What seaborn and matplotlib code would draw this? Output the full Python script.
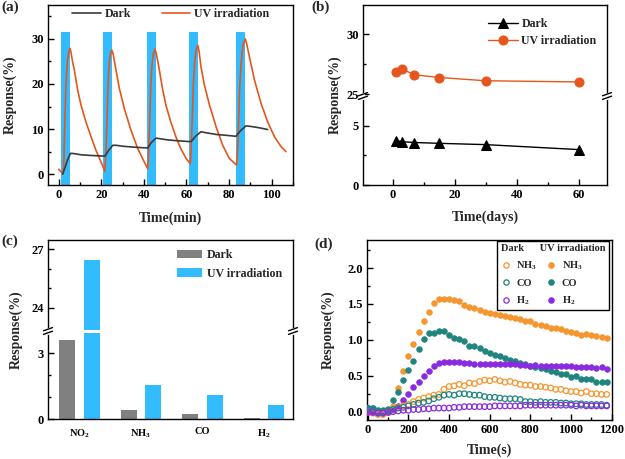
import matplotlib
matplotlib.use("Agg")
import matplotlib.pyplot as plt
from matplotlib.lines import Line2D
from matplotlib.patches import Patch
from matplotlib.ticker import MultipleLocator, FixedLocator
import numpy as np
import pandas as pd
import seaborn as sns

# ---------------- data: panel (a) ----------------
a_dark_t = [1.9, 3.0, 4.2, 5.5, 6.5, 8.0, 10.5, 15.0, 21.7, 23.5, 25.4, 27.0, 30.0, 35.0, 41.8,
            43.5, 45.7, 47.0, 51.2, 56.0, 62.1, 64.5, 66.8, 69.0, 74.0, 79.0, 83.2, 85.5, 87.9,
            90.0, 94.0, 98.1]
a_dark_r = [0.0, 1.5, 3.2, 4.6, 4.6, 4.5, 4.3, 4.15, 4.0, 5.3, 6.4, 6.4, 6.2, 6.0, 5.8,
            7.0, 8.0, 7.9, 7.6, 7.4, 7.2, 8.5, 9.4, 9.2, 8.8, 8.6, 8.4, 9.7, 10.7,
            10.6, 10.3, 9.9]
a_uv_t = [0.0, 1.0, 1.9, 2.4, 2.7, 3.1, 3.4, 3.8, 4.2, 4.7, 5.3, 5.8, 6.5, 7.4, 8.9, 10.5, 12.8,
          15.2, 17.5, 19.9, 21.7,
          22.2, 22.7, 23.1, 23.5, 24.0, 24.5, 25.0, 25.6, 26.9, 28.5, 30.8, 33.9, 37.1, 40.2, 41.8,
          42.3, 42.8, 43.2, 43.7, 44.2, 44.7, 45.2, 45.8, 47.3, 48.8, 50.4, 52.7, 55.1, 57.4, 59.8,
          61.8,
          62.3, 62.9, 63.3, 63.8, 64.3, 64.8, 65.3, 65.9, 66.8, 68.4, 70.8, 73.9, 77.0, 80.1, 83.5,
          84.1, 84.6, 85.0, 85.5, 86.0, 86.6, 87.6, 88.2, 89.5, 91.9, 95.0, 98.1, 101.3, 104.4, 106.7]
a_uv_r = [1.1, 0.6, 0.1, 1.5, 8.0, 14.5, 19.4, 23.0, 25.3, 27.0, 27.9, 27.0, 25.0, 23.0, 18.7, 15.3, 11.6,
          8.3, 5.3, 2.7, 0.6,
          5.0, 12.0, 18.5, 23.0, 25.8, 27.0, 27.5, 26.6, 23.1, 19.0, 14.6, 9.8, 5.7, 2.7, 1.2,
          5.5, 13.0, 19.0, 23.5, 26.0, 27.2, 27.7, 26.8, 23.0, 18.8, 15.2, 11.5, 8.2, 5.6, 3.5,
          2.3,
          7.0, 15.0, 20.5, 24.5, 26.8, 28.0, 28.5, 27.3, 23.8, 19.8, 15.3, 10.5, 6.4, 3.5, 2.0,
          6.0, 14.0, 19.5, 23.5, 26.5, 28.7, 30.0, 29.0, 26.1, 20.9, 15.7, 11.6, 8.3, 6.1, 5.0]
a_uv_on = [1.1, 21.0, 41.5, 61.4, 83.2]
a_uv_off = [5.2, 25.0, 45.7, 65.6, 87.5]
a_uv_bar_top = 31.6

# ---------------- data: panel (b) ----------------
b_days = [1, 3, 7, 15, 30, 60]
b_dark = [3.75, 3.67, 3.60, 3.53, 3.42, 3.00]
b_uv = [26.86, 27.10, 26.63, 26.40, 26.13, 26.03]

# ---------------- data: panel (c) ----------------
c_gases = ['NO$_2$', 'NH$_3$', 'CO', 'H$_2$']
c_dark = [3.63, 0.40, 0.21, 0.03]
c_uv = [26.44, 1.54, 1.09, 0.66]

# ---------------- data: panel (d) ----------------
d_time = [0, 25, 50, 75, 100, 125, 150, 175, 200, 225, 250, 275, 300, 325, 350, 375, 400, 425,
          450, 475, 500, 525, 550, 575, 600, 625, 650, 675, 700, 725, 750, 775, 800, 825, 850,
          875, 900, 925, 950, 975, 1000, 1025, 1050, 1075, 1100, 1125, 1150, 1175]
d_uv_nh3 = [0.00, 0.03, 0.00, -0.01, 0.00, 0.08, 0.33, 0.56, 0.78, 0.94, 1.11, 1.26, 1.39, 1.51, 1.57,
            1.57, 1.57, 1.56, 1.54, 1.49, 1.46, 1.45, 1.42, 1.39,
            1.37, 1.36, 1.35, 1.33, 1.32, 1.31, 1.29, 1.26, 1.26, 1.22, 1.20, 1.19, 1.17, 1.16,
            1.15, 1.13, 1.11, 1.09, 1.07, 1.08, 1.07, 1.06, 1.04, 1.03]
d_uv_co = [0.05, 0.05, 0.02, 0.02, 0.04, 0.16, 0.27, 0.44, 0.58, 0.71, 0.87, 1.01, 1.09, 1.09, 1.13,
           1.13, 1.07, 1.03, 1.01, 0.98, 0.92, 0.92, 0.89, 0.84,
           0.82, 0.79, 0.77, 0.75, 0.72, 0.70, 0.68, 0.66, 0.64, 0.62, 0.61, 0.59, 0.57, 0.55,
           0.53, 0.52, 0.48, 0.49, 0.45, 0.45, 0.46, 0.42, 0.42, 0.41]
d_uv_h2 = [0.00, 0.00, -0.02, -0.02, 0.00, 0.04, 0.08, 0.16, 0.25, 0.34, 0.41, 0.49, 0.56, 0.64, 0.68,
           0.69, 0.69, 0.69, 0.69, 0.68, 0.68, 0.67, 0.66, 0.67,
           0.67, 0.67, 0.66, 0.66, 0.67, 0.66, 0.65, 0.65, 0.64, 0.65, 0.64, 0.64, 0.63, 0.63,
           0.63, 0.63, 0.63, 0.62, 0.62, 0.62, 0.62, 0.61, 0.62, 0.60]
d_dark_nh3 = [0.00, -0.02, -0.04, -0.04, -0.01, 0.02, 0.06, 0.08, 0.10, 0.14, 0.17, 0.19, 0.21, 0.23, 0.24,
              0.31, 0.35, 0.36, 0.38, 0.36, 0.40, 0.39, 0.42, 0.44,
              0.43, 0.45, 0.43, 0.41, 0.42, 0.40, 0.38, 0.37, 0.37, 0.35, 0.35, 0.34, 0.33, 0.31,
              0.31, 0.29, 0.28, 0.28, 0.26, 0.28, 0.25, 0.25, 0.24, 0.24]
d_dark_co = [0.05, 0.04, 0.00, 0.00, 0.02, 0.03, 0.05, 0.06, 0.08, 0.10, 0.12, 0.13, 0.15, 0.18, 0.20,
             0.23, 0.24, 0.23, 0.25, 0.25, 0.24, 0.23, 0.23, 0.21,
             0.20, 0.20, 0.19, 0.18, 0.18, 0.18, 0.17, 0.14, 0.14, 0.13, 0.14, 0.13, 0.13, 0.13,
             0.12, 0.12, 0.11, 0.11, 0.11, 0.10, 0.10, 0.10, 0.10, 0.09]
d_dark_h2 = [0.00, -0.01, -0.02, -0.02, -0.01, 0.00, 0.01, 0.02, 0.02, 0.03, 0.03, 0.04, 0.04, 0.05, 0.05,
             0.05, 0.05, 0.06, 0.06, 0.07, 0.07, 0.07, 0.07, 0.07,
             0.07, 0.08, 0.08, 0.08, 0.08, 0.08, 0.08, 0.09, 0.09, 0.09, 0.09, 0.09, 0.09, 0.09,
             0.09, 0.09, 0.09, 0.08, 0.09, 0.08, 0.08, 0.08, 0.08, 0.08]

# ---------------- style ----------------
sns.set_style("ticks")
plt.rcParams.update({
    "font.family": ["Liberation Serif", "DejaVu Serif"],
    "font.weight": "bold",
    "axes.labelweight": "bold",
    "axes.linewidth": 1.0,
    "axes.edgecolor": "black",
    "mathtext.fontset": "custom",
    "mathtext.rm": "Liberation Serif:bold",
    "mathtext.it": "Liberation Serif:bold",
    "mathtext.bf": "Liberation Serif:bold",
    "mathtext.default": "bf",
    "xtick.color": "black",
    "ytick.color": "black",
})

W, H = 625, 459
fig = plt.figure(figsize=(W / 100, H / 100), dpi=100)


def rect(x0, y0, x1, y1):
    """pixel box (top-left origin) -> figure fraction rect"""
    return [x0 / W, 1 - y1 / H, (x1 - x0) / W, (y1 - y0) / H]


def fpx(x, y):
    return x / W, 1 - y / H


def style_ticks(ax, fs=9):
    ax.tick_params(which="major", direction="in", length=4, width=1, labelsize=fs,
                   top=False, right=False, pad=3)
    ax.tick_params(which="minor", direction="in", length=2.5, width=1,
                   top=False, right=False)
    for lab in ax.get_xticklabels() + ax.get_yticklabels():
        lab.set_fontweight("bold")


def break_marks(x_px_list, yc):
    for x in x_px_list:
        fig.add_artist(Line2D(*zip(fpx(x, yc - 1.6), fpx(x, yc + 1.6)), color="white", lw=2.2,
                              transform=fig.transFigure, zorder=20))
        for oy in (-1.8, 1.8):
            p0 = fpx(x - 4.5, yc + oy + 1.6)
            p1 = fpx(x + 4.5, yc + oy - 1.6)
            fig.add_artist(Line2D([p0[0], p1[0]], [p0[1], p1[1]], color="black", lw=1.0,
                                  transform=fig.transFigure, zorder=21))


ORANGE = "#E5561C"
BLUE = "#33BBFF"
GREY = "#808080"

# ================= panel (a) =================
ax_a = fig.add_axes(rect(48, 5, 293, 185))
ylim_a = (-2.4, 37.5)
ax_a.bar(a_uv_on, height=[a_uv_bar_top - ylim_a[0]] * len(a_uv_on),
         width=np.subtract(a_uv_off, a_uv_on), bottom=ylim_a[0], align="edge",
         color=BLUE, linewidth=0, zorder=1)
sns.lineplot(x=a_uv_t, y=a_uv_r, ax=ax_a, color=ORANGE, lw=1.2, label="UV irradiation",
             sort=False, zorder=3)
sns.lineplot(x=a_dark_t, y=a_dark_r, ax=ax_a, color="#3A3A3A", lw=1.2, label="Dark",
             sort=False, zorder=4)
ax_a.set_xlim(-5, 110)
ax_a.set_ylim(*ylim_a)
ax_a.xaxis.set_major_locator(MultipleLocator(20))
ax_a.xaxis.set_minor_locator(MultipleLocator(10))
ax_a.yaxis.set_major_locator(MultipleLocator(10))
ax_a.yaxis.set_minor_locator(MultipleLocator(5))
style_ticks(ax_a)
ax_a.set_xlabel("Time(min)", fontsize=10, fontweight="bold")
ax_a.set_ylabel("Response(%)", fontsize=10, fontweight="bold")
ax_a.xaxis.set_label_coords(0.5, -0.15)
ax_a.yaxis.set_label_coords(-0.127, 0.5)
h, l = ax_a.get_legend_handles_labels()
order = [l.index("Dark"), l.index("UV irradiation")]
ax_a.legend([h[i] for i in order], [l[i] for i in order], ncol=2, frameon=False,
            loc="upper left", bbox_to_anchor=(0.098, 0.985), borderaxespad=0, borderpad=0,
            handlelength=2.4, handletextpad=0.3, columnspacing=2.6,
            prop={"size": 8.6, "weight": "bold"})

# ================= panel (b) =================
ax_bu = fig.add_axes(rect(363, 5, 607, 96))
ax_bl = fig.add_axes(rect(363, 96, 607, 185))
sns.lineplot(x=b_days, y=b_uv, ax=ax_bu, color=ORANGE, lw=1.0, marker="o", markersize=6.5,
             markeredgecolor=ORANGE, label="UV irradiation")
sns.lineplot(x=b_days, y=b_dark, ax=ax_bl, color="black", lw=1.0, marker="^", markersize=6.5,
             markeredgecolor="black", label="Dark")
for ax in (ax_bu, ax_bl):
    ax.set_xlim(-9.6, 69.1)
    ax.xaxis.set_major_locator(MultipleLocator(20))
    ax.xaxis.set_minor_locator(MultipleLocator(10))
    ax.set_ylabel("")
ax_bu.set_ylim(24.86, 32.44)
ax_bl.set_ylim(0, 7.54)
ax_bu.yaxis.set_major_locator(FixedLocator([25, 30]))
ax_bu.yaxis.set_minor_locator(FixedLocator([27.5]))
ax_bl.yaxis.set_major_locator(FixedLocator([0, 5]))
ax_bl.yaxis.set_minor_locator(FixedLocator([2.5]))
ax_bu.spines["bottom"].set_visible(False)
ax_bl.spines["top"].set_visible(False)
style_ticks(ax_bu)
style_ticks(ax_bl)
ax_bu.tick_params(axis="x", which="both", bottom=False, labelbottom=False)
ax_bl.set_xlabel("Time(days)", fontsize=10, fontweight="bold")
ax_bl.xaxis.set_label_coords(0.5, -0.29)
fig.text(*fpx(335, 95), "Response(%)", rotation=90, ha="center", va="center",
         fontsize=10, fontweight="bold")
hb = [ax_bl.get_legend_handles_labels()[0][0], ax_bu.get_legend_handles_labels()[0][0]]
if ax_bl.get_legend():
    ax_bl.get_legend().remove()
ax_bu.legend(hb, ["Dark", "UV irradiation"], frameon=False, loc="upper left",
             bbox_to_anchor=(0.512, 0.86), borderaxespad=0, borderpad=0,
             handlelength=2.5, handletextpad=0.3, labelspacing=0.45,
             prop={"size": 8.6, "weight": "bold"})
break_marks([363, 607], 96)

# ================= panel (c) =================
ax_cu = fig.add_axes(rect(48, 240, 293, 329.5))
ax_cl = fig.add_axes(rect(48, 332.5, 293, 419))
df_c = pd.DataFrame({
    "gas": c_gases * 2,
    "cond": ["Dark"] * len(c_gases) + ["UV irradiation"] * len(c_gases),
    "resp": c_dark + c_uv,
})
pal_c = {"Dark": GREY, "UV irradiation": BLUE}
for ax in (ax_cu, ax_cl):
    sns.barplot(data=df_c, x="gas", y="resp", hue="cond", palette=pal_c, width=0.8, gap=0.35,
                linewidth=0, saturation=1, ax=ax, legend=False)
    ax.set_xlim(-0.51, 3.47)
    ax.set_xlabel("")
    ax.set_ylabel("")
ax_cu.set_ylim(22.88, 27.48)
ax_cl.set_ylim(0, 3.95)
ax_cu.yaxis.set_major_locator(FixedLocator([24, 27]))
ax_cu.yaxis.set_minor_locator(FixedLocator([25, 26]))
ax_cl.yaxis.set_major_locator(FixedLocator([0, 3]))
ax_cl.yaxis.set_minor_locator(FixedLocator([1, 2]))
ax_cu.spines["bottom"].set_visible(False)
ax_cl.spines["top"].set_visible(False)
style_ticks(ax_cu)
style_ticks(ax_cl, fs=9)
ax_cu.tick_params(axis="x", which="both", bottom=False, labelbottom=False)
ax_cl.tick_params(axis="x", which="both", bottom=False, length=0, labelsize=7.5, pad=6)
for lab in ax_cl.get_xticklabels():
    lab.set_fontweight("bold")
fig.text(*fpx(16, 330), "Response(%)", rotation=90, ha="center", va="center",
         fontsize=10, fontweight="bold")
ax_cu.legend([Patch(color=GREY, lw=0), Patch(color=BLUE, lw=0)], ["Dark", "UV irradiation"],
             frameon=False, loc="upper left", bbox_to_anchor=(0.527, 0.9),
             borderaxespad=0, borderpad=0, handlelength=2.1, handleheight=0.7,
             handletextpad=0.4, labelspacing=0.55, prop={"size": 8.6, "weight": "bold"})
break_marks([48, 293], 331)

# ================= panel (d) =================
ax_d = fig.add_axes(rect(366.7, 240, 611.7, 420))
C_NH3, C_CO, C_H2 = "#F5962F", "#21857F", "#8A2BE2"
series = [
    (d_uv_nh3, C_NH3, True), (d_uv_co, C_CO, True), (d_uv_h2, C_H2, True),
    (d_dark_nh3, C_NH3, False), (d_dark_co, C_CO, False), (d_dark_h2, C_H2, False),
]
for vals, col, filled in series:
    if filled:
        sns.scatterplot(x=d_time, y=vals, ax=ax_d, color=col, s=16, edgecolor=col,
                        linewidth=0.6, zorder=3)
    else:
        sns.scatterplot(x=d_time, y=vals, ax=ax_d, s=16, facecolor="none", edgecolor=col,
                        linewidth=0.9, zorder=3)
ax_d.set_xlim(-5, 1200)
ax_d.set_ylim(-0.116, 2.39)
ax_d.xaxis.set_major_locator(MultipleLocator(200))
ax_d.xaxis.set_minor_locator(MultipleLocator(100))
ax_d.yaxis.set_major_locator(MultipleLocator(0.5))
ax_d.yaxis.set_minor_locator(MultipleLocator(0.25))
ax_d.yaxis.set_major_formatter(matplotlib.ticker.FormatStrFormatter("%.1f"))
style_ticks(ax_d)
ax_d.set_xlabel("Time(s)", fontsize=10, fontweight="bold")
ax_d.set_ylabel("Response(%)", fontsize=10, fontweight="bold")
ax_d.xaxis.set_label_coords(0.5, -0.133)
ax_d.yaxis.set_label_coords(-0.129, 0.5)


def mk(col, filled):
    return Line2D([], [], ls="none", marker="o", markersize=3.8,
                  markerfacecolor=col if filled else "none", markeredgecolor=col,
                  markeredgewidth=0.9)


hd = [mk(C_NH3, False), mk(C_CO, False), mk(C_H2, False),
      mk(C_NH3, True), mk(C_CO, True), mk(C_H2, True)]
ld = ["NH$_3$", "CO", "H$_2$", "NH$_3$", "CO", "H$_2$"]
leg_d = ax_d.legend(hd, ld, ncol=2, loc="upper right", bbox_to_anchor=(0.99, 0.997),
                    borderaxespad=0, frameon=True, fancybox=False, edgecolor="black",
                    framealpha=1, title="Dark      UV irradiation", alignment="left",
                    handlelength=0.9, handletextpad=0.55, columnspacing=0.9, labelspacing=0.62,
                    borderpad=0.35, prop={"size": 7.5, "weight": "bold"},
                    title_fontproperties={"size": 7.5, "weight": "bold"})
leg_d.get_frame().set_linewidth(1.0)

# panel letters
for txt, (x, y) in [("(a)", (1, 7)), ("(b)", (311, 7)), ("(c)", (1, 241)), ("(d)", (314, 244))]:
    fig.text(*fpx(x, y), txt, ha="left", va="center", fontsize=11, fontweight="bold")

fig.savefig("out.png", dpi=100)
